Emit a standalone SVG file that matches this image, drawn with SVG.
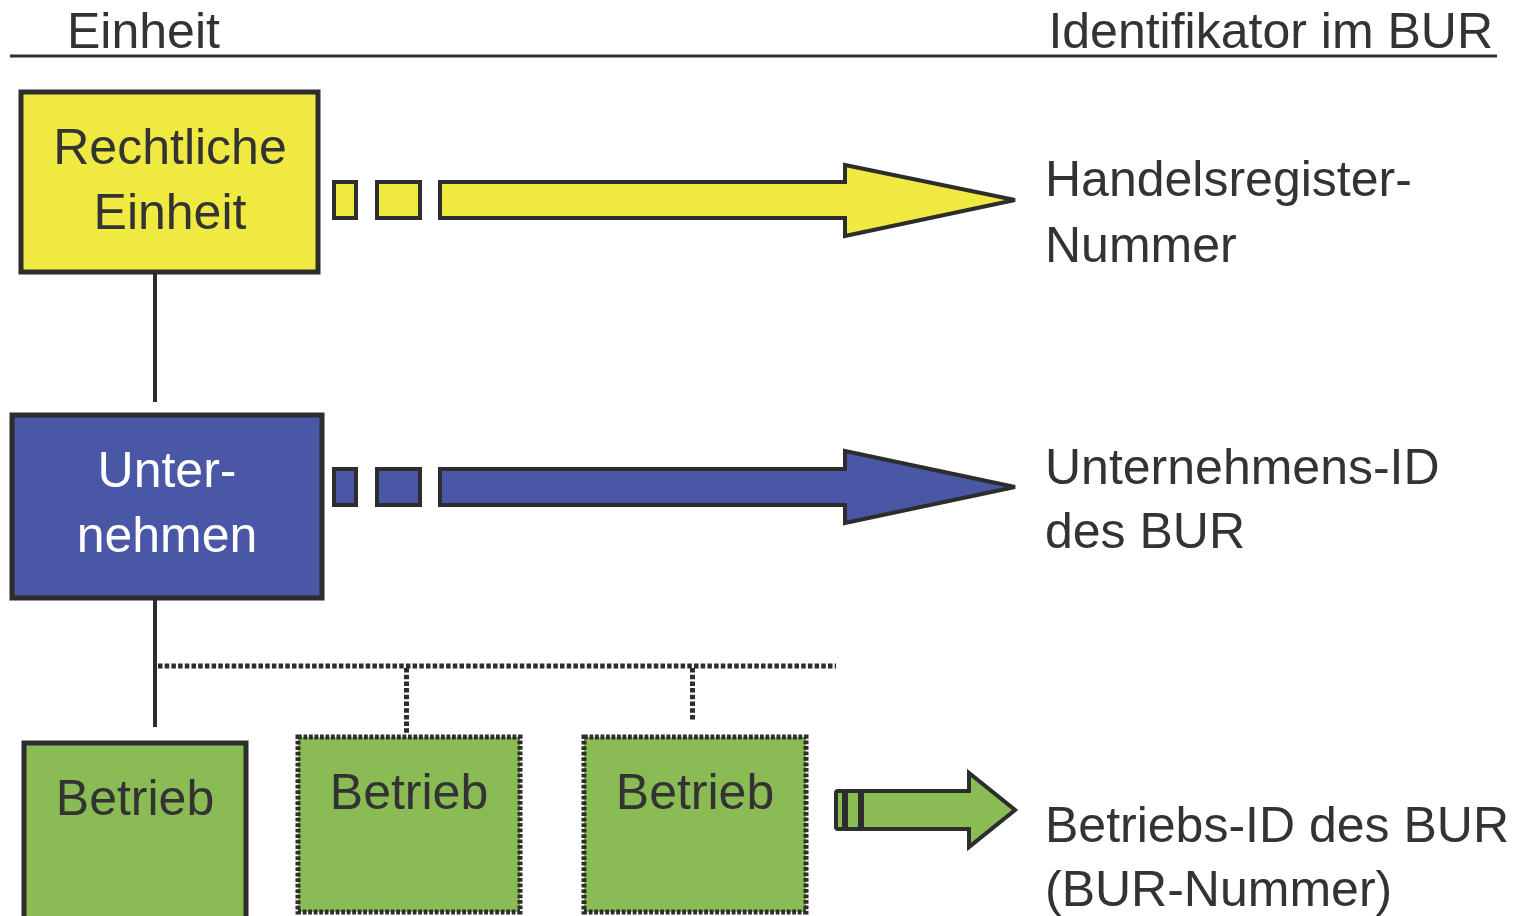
<svg xmlns="http://www.w3.org/2000/svg" width="1524" height="916" viewBox="0 0 1524 916">
<style>
text{font-family:"Liberation Sans",Arial,sans-serif;font-size:50px;fill:#333333}
.c{text-anchor:middle}
.w{fill:#ffffff}
.ln{stroke:#2d2d2d;stroke-width:4;fill:none}
.dot{stroke:#2d2d2d;stroke-width:5;stroke-dasharray:4.5 2.2;fill:none}
.bdot{stroke:#2d2d2d;stroke-width:5;stroke-dasharray:3.8 1.7;fill:none}
.box{stroke:#2d2d2d;stroke-width:5}
.sh{stroke:#2d2d2d;stroke-width:4;stroke-linejoin:miter}
.y{fill:#f0e942}
.b{fill:#4a56a6}
.g{fill:#8bbb55}
</style>
<rect width="1524" height="916" fill="#ffffff"/>
<g id="header">
<text x="67" y="48">Einheit</text>
<text x="1493" y="48" text-anchor="end">Identifikator im BUR</text>
<line x1="10" y1="56" x2="1497" y2="56" stroke="#2d2d2d" stroke-width="3"/>
</g>
<g id="connectors">
<line class="ln" x1="155" y1="272" x2="155" y2="402"/>
<line class="ln" x1="155" y1="598" x2="155" y2="727"/>
<line class="dot" x1="158" y1="666" x2="836" y2="666"/>
<line class="dot" x1="406.5" y1="668" x2="406.5" y2="735"/>
<line class="dot" x1="692.5" y1="668" x2="692.5" y2="720"/>
</g>
<g id="node-rechtliche">
<rect class="box y" x="21" y="92" width="297" height="180"/>
<text class="c" x="170" y="164">Rechtliche</text>
<text class="c" x="170" y="229">Einheit</text>
</g>
<g id="node-unternehmen">
<rect class="box b" x="12" y="415" width="310" height="183"/>
<text class="c w" x="167" y="487">Unter-</text>
<text class="c w" x="167" y="552">nehmen</text>
</g>
<g id="node-betrieb1">
<rect class="box g" x="24" y="743" width="222" height="180"/>
<text class="c" x="135" y="815">Betrieb</text>
</g>
<g id="node-betrieb2">
<rect class="g" x="298" y="737" width="222" height="175"/>
<rect class="bdot" x="298" y="737" width="222" height="175"/>
<text class="c" x="409" y="809">Betrieb</text>
</g>
<g id="node-betrieb3">
<rect class="g" x="584" y="737" width="222" height="175"/>
<rect class="bdot" x="584" y="737" width="222" height="175"/>
<text class="c" x="695" y="809">Betrieb</text>
</g>
<g id="arrow-yellow">
<rect class="sh y" x="334" y="182" width="22" height="36"/>
<rect class="sh y" x="377" y="182" width="43" height="36"/>
<polygon class="sh y" points="440,182 845,182 845,165 1015,200 845,236 845,218 440,218"/>
</g>
<g id="arrow-blue">
<rect class="sh b" x="334" y="469" width="22" height="36"/>
<rect class="sh b" x="377" y="469" width="43" height="36"/>
<polygon class="sh b" points="440,469 845,469 845,451 1015,487 845,523 845,505 440,505"/>
</g>
<g id="arrow-green">
<rect class="sh g" x="836" y="791" width="8" height="38" rx="2"/>
<rect class="sh g" x="846" y="791" width="14" height="38"/>
<polygon class="sh g" points="862,791 969,791 969,773 1015,810 969,847 969,829 862,829"/>
</g>
<g id="labels">
<text x="1045" y="196">Handelsregister-</text>
<text x="1045" y="262">Nummer</text>
<text x="1045" y="484">Unternehmens-ID</text>
<text x="1045" y="548">des BUR</text>
<text x="1045" y="842">Betriebs-ID des BUR</text>
<text x="1045" y="906">(BUR-Nummer)</text>
</g>
</svg>
